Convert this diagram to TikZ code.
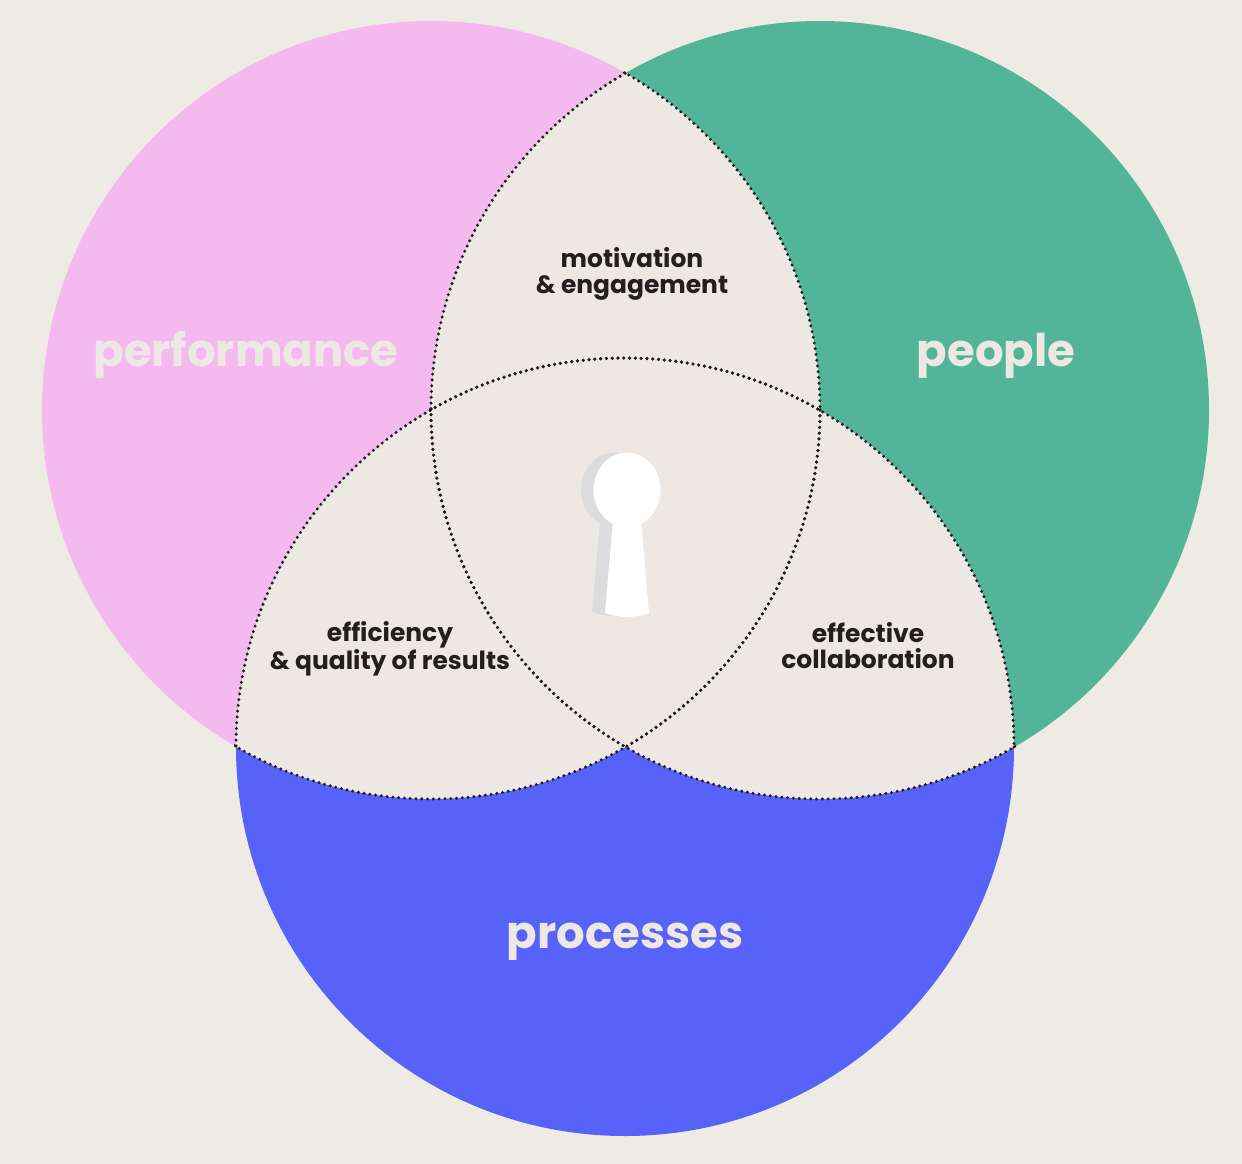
\documentclass[tikz,border=0pt]{standalone}
\usepackage{xcolor}
\usepackage{fontspec}
\setmainfont{Poppins}
\definecolor{paper}{HTML}{EEEBE4}
\definecolor{overlap}{HTML}{EDE8E4}
\definecolor{pinkset}{HTML}{F4BAEF}
\definecolor{greenset}{HTML}{53B597}
\definecolor{blueset}{HTML}{5662F8}
\definecolor{ink}{HTML}{231F20}
\definecolor{shadow}{HTML}{DADCDE}

\begin{document}
\begin{tikzpicture}[x=0.02cm,y=-0.02cm]
\tikzstyle{setname} = [text=overlap, font=\fontsize{25.6}{30}\selectfont\bfseries, inner sep=0pt]
\tikzstyle{areaname} = [text=ink, font=\fontsize{14.2}{14.7}\selectfont\bfseries, align=center, inner sep=0pt]
\tikzstyle{dots} = [draw=ink, line width=1.9pt, line cap=round, dash pattern=on 0pt off 3.3pt]

\fill [paper] (0,0) rectangle (1242,1164);
\useasboundingbox (0,0) rectangle (1242,1164);

% the three sets
\fill [pinkset] (431,410) circle [radius=389];
\fill [greenset] (820,410) circle [radius=389];
\fill [blueset] (625,747) circle [radius=389];

% overlaps, with dotted edges
\foreach \ax/\ay/\bx/\by in {431/410/820/410, 431/410/625/747, 820/410/625/747} {
  \begin{scope}
    \clip (\ax,\ay) circle [radius=389];
    \fill [overlap] (\bx,\by) circle [radius=389];
  \end{scope}
}
\foreach \ax/\ay/\bx/\by in {431/410/820/410, 431/410/625/747, 820/410/625/747} {
  \begin{scope}
    \clip (\ax,\ay) circle [radius=391];
    \draw [dots] (\bx,\by) circle [radius=389];
  \end{scope}
  \begin{scope}
    \clip (\bx,\by) circle [radius=391];
    \draw [dots] (\ax,\ay) circle [radius=389];
  \end{scope}
}

% keyhole
\fill [shadow] (614.5,490) circle [x radius=33.5, y radius=37.5];
\fill [shadow] (600,522) -- (592,612) .. controls (600,615) and (615,617) .. (627,617) -- (640,522) -- cycle;
\fill [white] (627,490) circle [x radius=33.5, y radius=37.5];
\fill [white] (613,520) -- (641,520) -- (649,613) .. controls (640,616) and (632,617) .. (627,617) .. controls (620,617) and (612,616) .. (605,613) -- cycle;

\node (performance) [setname] at (246,355) {performance};
\node (people) [setname] at (996,356) {people};
\node (processes) [setname] at (625,942) {processes};
\node (motivation) [areaname] at (632,274) {motivation\\\& engagement};
\node (efficiency) [areaname] at (390,649) {efficiency\\\& quality of results};
\node (collaboration) [areaname] at (868,646) {effective\\collaboration};

\end{tikzpicture}
\end{document}
